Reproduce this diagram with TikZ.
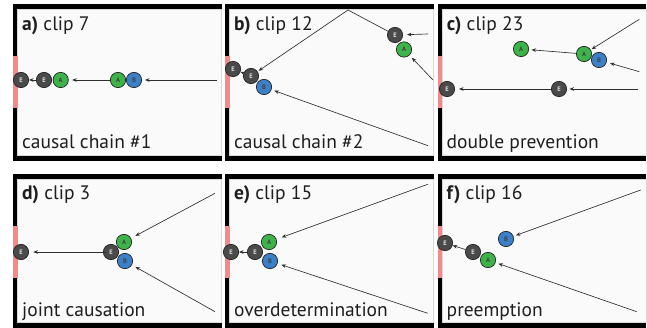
\documentclass[tikz,border=0pt]{standalone}
\usepackage{fontspec}
\newfontfamily\labelfont{PT Sans}
\usetikzlibrary{arrows.meta}
\definecolor{egray}{HTML}{4A4A4A}
\definecolor{agreen}{HTML}{3CB44A}
\definecolor{bblue}{HTML}{3B80C8}
\definecolor{ballline}{HTML}{262626}
\definecolor{arrcol}{HTML}{2E2E2E}
\definecolor{wallpink}{HTML}{F28A8C}
\definecolor{panelbg}{HTML}{FAFAFA}
\definecolor{paneledge}{HTML}{D8D8D8}
\definecolor{labeltext}{HTML}{1E1E1E}
\tikzset{
  ball/.style={circle, draw=ballline, line width=0.7pt, minimum size=15.3pt, inner sep=0pt,
    font=\labelfont\bfseries\fontsize{6.5}{6.5}\selectfont},
  eball/.style={ball, fill=egray, text=black!12},
  aball/.style={ball, fill=agreen, text=black!75},
  bball/.style={ball, fill=bblue, text=black!75},
  arr/.style={draw=arrcol, line width=0.65pt, -{Stealth[length=4.5pt,width=3.6pt]}},
  title/.style={anchor=base west, inner sep=0pt, text=labeltext, font=\labelfont\fontsize{19.5}{19.5}\selectfont},
  caption/.style={title}
}
\newcommand{\panelframe}[3]{%
  \fill[black] (#1,#2) rectangle (#1+208.5,#3);
  \filldraw[fill=panelbg, draw=paneledge, line width=0.4pt] (#1+4.5,#2+5) rectangle (#1+208.5,#3-5.5);
  \fill[wallpink] (#1,#2+52.5) rectangle (#1+4.5,#2+104);
}
\begin{document}
\begin{tikzpicture}[x=1pt,y=-1pt]
\useasboundingbox (0,0) rectangle (647,328);
\fill[white] (0,0) rectangle (647,328);
% frames
\panelframe{13}{4}{161}
\panelframe{225}{4}{161}
\panelframe{437.5}{4}{161}
\panelframe{13}{174}{328}
\panelframe{225}{174}{328}
\panelframe{437.5}{174}{328}

% ---------- panel a
\node[title] (aT) at (22,30.7) {\textbf{a)} clip 7};
\node[caption] (aC) at (22,148.3) {causal chain \#1};
\node[eball] (aE1) at (21,80) {E};
\node[eball] (aE2) at (44,80) {E};
\node[aball] (aA1) at (60.7,80) {A};
\node[aball] (aA2) at (118,80) {A};
\node[bball] (aB) at (134,80) {B};
\coordinate (aIn) at (217,80);
\draw[arr, shorten >=3pt] (aIn) -- (aB);
\draw[arr, shorten >=3.5pt] (aA2) -- (aA1);
\draw[arr] (aE2) -- (aE1);

% ---------- panel b
\node[title] (bT) at (234,30.7) {\textbf{b)} clip 12};
\node[caption] (bC) at (234,148.3) {causal chain \#2};
\node[eball] (bE3) at (395,35) {E};
\node[aball] (bA) at (404,49.5) {A};
\node[eball] (bE1) at (233,69) {E};
\node[bball] (bB) at (264,87) {B};
\node[eball] (bE2) at (251,76) {E};
\coordinate (bApex) at (348,10);
\coordinate (bInE) at (428,34);
\coordinate (bInA) at (433,80);
\coordinate (bInB) at (428,145.7);
\draw[arr, shorten >=1.2pt] (bE3) -- (bApex) -- (bE2);
\draw[arr, shorten >=4pt] (bInE) -- (bE3);
\draw[arr, shorten >=3.4pt] (bInA) -- (bA);
\draw[arr, shorten >=3pt] (bInB) -- (bB);
\draw[arr] (bE2) -- (bE1);

% ---------- panel c
\node[title] (cT) at (446.7,30.7) {\textbf{c)} clip 23};
\node[caption] (cC) at (446.5,148.3) {double prevention};
\node[aball] (cA1) at (521,49) {A};
\node[bball] (cB) at (599,60) {B};
\node[aball] (cA2) at (584,54) {A};
\node[eball] (cE1) at (447,89) {E};
\node[eball] (cE2) at (559,89) {E};
\coordinate (cInA) at (639.3,19.3);
\coordinate (cInB) at (639.3,71.7);
\coordinate (cInE) at (638.3,89);
\draw[arr, shorten >=2.5pt] (cA2) -- (cA1);
\draw[arr, shorten >=1pt] (cInA) -- (cA2);
\draw[arr, shorten >=3.5pt] (cInB) -- (cB);
\draw[arr, shorten >=4pt] (cE2) -- (cE1);
\draw[arr, shorten >=2.5pt] (cInE) -- (cE2);

% ---------- panel d
\node[title] (dT) at (22,199.3) {\textbf{d)} clip 3};
\node[caption] (dC) at (22,316.7) {joint causation};
\node[eball] (dE1) at (21,252) {E};
\node[eball] (dE2) at (111,252) {E};
\node[aball] (dA) at (124,242) {A};
\node[bball] (dB) at (125,261) {B};
\coordinate (dInA) at (215,193.3);
\coordinate (dInB) at (215,311.7);
\draw[arr, shorten >=4.3pt, shorten <=-3pt] (dE2) -- (dE1);
\draw[arr, shorten >=5pt] (dInA) -- (dA);
\draw[arr, shorten >=4pt] (dInB) -- (dB);

% ---------- panel e
\node[title] (eT) at (234,199.3) {\textbf{e)} clip 15};
\node[caption] (eC) at (234,316.7) {overdetermination};
\node[eball] (eE1) at (231,252) {E};
\node[eball] (eE2) at (255,252) {E};
\node[aball] (eA) at (269,242) {A};
\node[bball] (eB) at (270,261) {B};
\coordinate (eInA) at (427.7,184.3);
\coordinate (eInB) at (427.7,313.3);
\draw[arr] (eE2) -- (eE1);
\draw[arr, shorten >=5.5pt] (eInA) -- (eA);
\draw[arr, shorten >=4pt] (eInB) -- (eB);

% ---------- panel f
\node[title] (fT) at (446.5,199.3) {\textbf{f)} clip 16};
\node[caption] (fC) at (446.5,316.7) {preemption};
\node[eball] (fE1) at (445,243) {E};
\node[eball] (fE2) at (473,252) {E};
\node[aball] (fA) at (488,260) {A};
\node[bball] (fB) at (506,239) {B};
\coordinate (fInB) at (640.7,190);
\coordinate (fInA) at (636.7,311.7);
\draw[arr] (fE2) -- (fE1);
\draw[arr, shorten >=2.5pt] (fInB) -- (fB);
\draw[arr, shorten >=3pt] (fInA) -- (fA);
\end{tikzpicture}
\end{document}
